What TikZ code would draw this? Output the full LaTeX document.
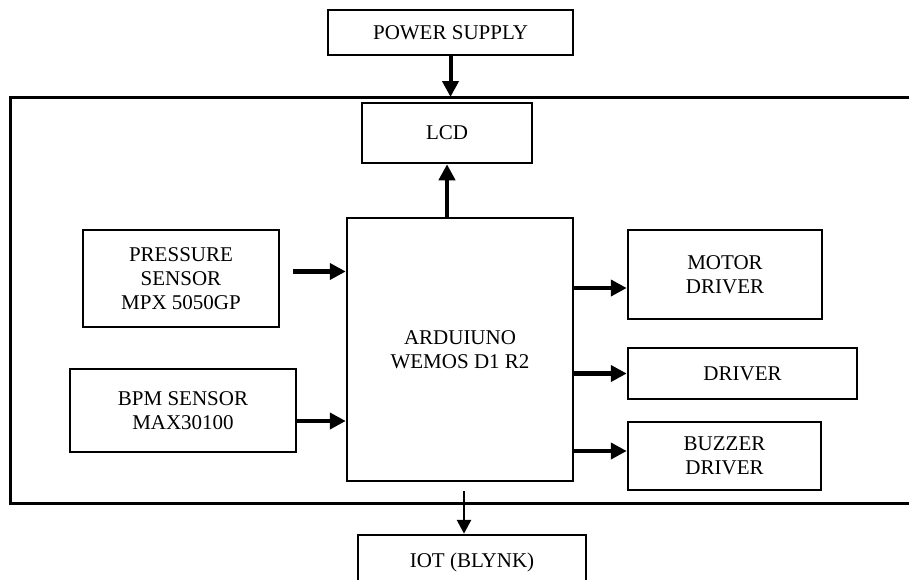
\documentclass[tikz,border=0pt]{standalone}
\usepackage{fontspec}
\setmainfont{Liberation Serif}
\usetikzlibrary{arrows.meta}

\begin{document}
\begin{tikzpicture}[x=1pt,y=-1pt,
        blk/.style={draw,line width=2.5pt,inner sep=0pt,align=center,
            font=\fontsize{21}{24}\selectfont},
        arr/.style={line width=4.5pt,-{Triangle[length=16pt,width=16pt]}},
        thinarr/.style={line width=2.8pt,-{Triangle[length=14pt,width=14pt]}}]
        \useasboundingbox (0,0) rectangle (909,579);

        % frame
        \coordinate (fnw) at (10,97);
        \coordinate (fse) at (915,503);
        \draw[line width=3pt] (fnw) rectangle (fse);

        % blocks
        \node[blk,minimum width=245pt,minimum height=45pt] (power) at (450.5,32.5) {POWER SUPPLY};
        \node[blk,minimum width=170pt,minimum height=60pt] (lcd) at (447,133) {LCD};
        \node[blk,minimum width=226pt,minimum height=263pt] (ardu) at (460,349.5)
            {ARDUIUNO\\WEMOS D1 R2};
        \node[blk,minimum width=196pt,minimum height=97pt] (press) at (181,278.5)
            {PRESSURE\\SENSOR\\MPX 5050GP};
        \node[blk,minimum width=226pt,minimum height=83pt] (bpm) at (183,410.5)
            {BPM SENSOR\\MAX30100};
        \node[blk,minimum width=194pt,minimum height=89pt] (motor) at (725,274.5)
            {MOTOR\\DRIVER};
        \node[blk,minimum width=229pt,minimum height=51pt] (drv) at (742.5,373.5) {DRIVER};
        \node[blk,minimum width=193pt,minimum height=68pt] (buzz) at (724.5,456)
            {BUZZER\\DRIVER};
        \node[blk,minimum width=228pt,minimum height=55pt] (iot) at (472,562.5) {IOT (BLYNK)};

        % arrow ends
        \coordinate (pin) at ([shift={(13,-7)}]press.east);
        \coordinate (bin) at ([shift={(0,10.5)}]bpm.east);
        \coordinate (iout) at ([shift={(4,9)}]ardu.south);

        % arrows
        \draw[arr,line width=4pt] (power.south) -- (power.south |- fnw);
        \draw[arr] (ardu.north -| lcd.south) -- (lcd.south);
        \draw[arr] (pin) -- (pin -| ardu.west);
        \draw[arr] (bin) -- (bin -| ardu.west);
        \draw[arr] ([shift={(0,13.5)}]motor.west -| ardu.east) -- ([shift={(0,13.5)}]motor.west);
        \draw[arr] (drv.west -| ardu.east) -- (drv.west);
        \draw[arr] ([shift={(0,-5)}]buzz.west -| ardu.east) -- ([shift={(0,-5)}]buzz.west);
        \draw[thinarr] (iout) -- (iout |- iot.north);
    \end{tikzpicture}
\end{document}
